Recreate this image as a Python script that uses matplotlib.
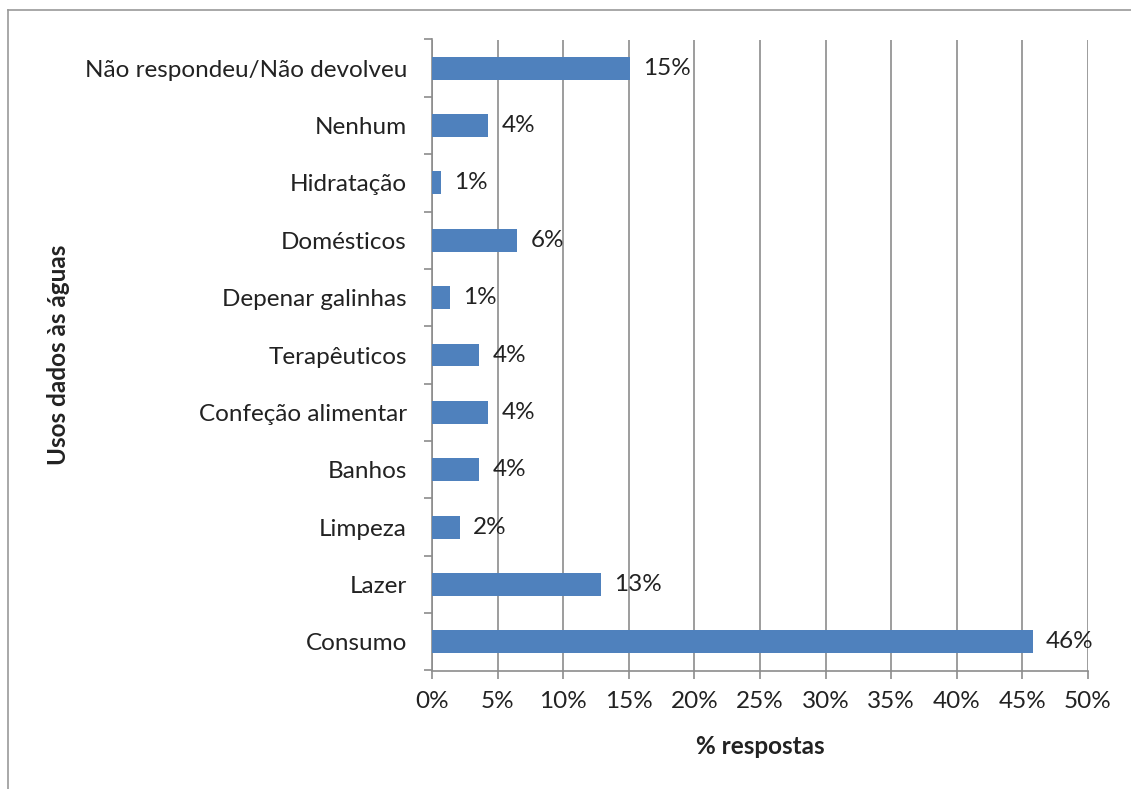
import matplotlib
matplotlib.use("Agg")
import matplotlib.pyplot as plt
from matplotlib.lines import Line2D
from matplotlib.ticker import MultipleLocator, FuncFormatter, FixedLocator

categorias = ["Consumo", "Lazer", "Limpeza", "Banhos", "Confeção alimentar",
              "Terapêuticos", "Depenar galinhas", "Domésticos", "Hidratação",
              "Nenhum", "Não respondeu/Não devolveu"]
valores = [45.8, 12.9, 2.1, 3.6, 4.3, 3.6, 1.4, 6.5, 0.7, 4.3, 15.1]
rotulos = ["46%", "13%", "2%", "4%", "4%", "4%", "1%", "6%", "1%", "4%", "15%"]

plt.rcParams['font.family'] = ['Lato', 'DejaVu Sans']
cor_texto = '#222222'
cor_grelha = '#8c8c8c'
fs = 17.5

fig = plt.figure(figsize=(11.31, 7.89), dpi=100)
ax = fig.add_axes([432 / 1131, 1 - 670.5 / 789, (1088 - 432) / 1131, (670.5 - 39.5) / 789])

y = list(range(len(categorias)))
ax.barh(y, valores, height=0.4, color='#4f81bd', zorder=3)
for yi, v, r in zip(y, valores, rotulos):
    ax.text(v + 1.0, yi, r, va='center', ha='left', fontsize=fs,
            color=cor_texto, zorder=4)

ax.set_xlim(0, 50)
ax.set_ylim(-0.5, len(categorias) - 0.5)
ax.xaxis.set_major_locator(MultipleLocator(5))
ax.xaxis.set_major_formatter(FuncFormatter(lambda x, p: f"{x:.0f}%"))
ax.grid(axis='x', color=cor_grelha, linewidth=1.2, zorder=0)

ax.set_yticks(y)
ax.set_yticklabels(categorias)
ax.yaxis.set_minor_locator(FixedLocator([i - 0.5 for i in range(len(categorias) + 1)]))
ax.tick_params(axis='y', which='major', length=0, pad=18, labelsize=fs, labelcolor=cor_texto)
ax.tick_params(axis='y', which='minor', length=6, color=cor_grelha, width=1.2)
ax.tick_params(axis='x', which='major', length=6, color=cor_grelha, width=1.2,
               pad=9, labelsize=fs, labelcolor=cor_texto)

for lado in ['top', 'right']:
    ax.spines[lado].set_visible(False)
for lado in ['left', 'bottom']:
    ax.spines[lado].set_color(cor_grelha)
    ax.spines[lado].set_linewidth(1.2)

ax.set_xlabel("% respostas", fontsize=fs, fontweight='bold', color=cor_texto)
ax.set_ylabel("Usos dados às águas", fontsize=fs, fontweight='bold', color=cor_texto)
ax.xaxis.set_label_coords((760 - 432) / 656, -(735 - 670.5) / 631)
ax.yaxis.set_label_coords((70 - 432) / 656, 0.5)

# moldura parcial do gráfico
fig.add_artist(Line2D([8 / 1131, 1.0], [1 - 10 / 789] * 2, color='#999999', linewidth=1.2))
fig.add_artist(Line2D([8 / 1131] * 2, [0, 1 - 10 / 789], color='#999999', linewidth=1.2))

fig.savefig("out.png", dpi=100)
